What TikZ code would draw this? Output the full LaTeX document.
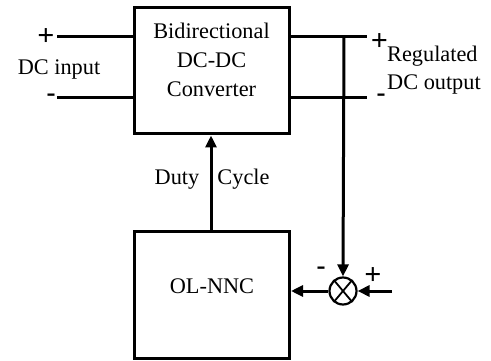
\documentclass[tikz,border=0pt]{standalone}
\usepackage{fontspec}
\setmainfont{Liberation Serif}
\usetikzlibrary{arrows.meta}
\begin{document}
\begin{tikzpicture}[x=1pt,y=-1pt,
  wire/.style={line width=3pt},
  arr/.style={wire,-{Triangle[length=12pt,width=11pt]}},
  blk/.style={draw,line width=3pt,minimum width=155pt,minimum height=126pt,inner sep=0pt},
  lbl/.style={font=\fontsize{22.3}{29}\selectfont,inner sep=0pt},
  sign/.style={font=\fontsize{27}{27}\selectfont\bfseries,inner sep=0pt},
  plus/.style={font=\fontsize{30}{30}\selectfont\bfseries,inner sep=0pt}]
\useasboundingbox (0,0) rectangle (491,361);
\node[blk] (conv) at (211.5,71) {};
\node[lbl,align=center] (convt) at (211.5,59.5) {Bidirectional\\DC-DC\\Converter};
\node[blk] (nnc) at (212,295) {};
\node[lbl,anchor=base] (nnct) at (212,294) {OL-NNC};
\node[draw,circle,line width=2.2pt,minimum size=27pt,inner sep=0pt] (sum) at (343,291) {};
\draw[line width=1.8pt] (sum.50) -- (sum.230) (sum.130) -- (sum.310);
% input
\coordinate (inp) at (57,37);
\coordinate (inm) at (57,98);
\draw[wire] (inp) -- (inp -| conv.west);
\draw[wire] (inm) -- (inm -| conv.west);
\node[plus] (ip) at (46,37) {+};
\node[sign] (im) at (51,98) {-};
\node[lbl,anchor=base] (dcin) at (59,75) {DC input};
% output
\coordinate (outp) at (367,37);
\coordinate (outm) at (367,98);
\draw[wire] (outp -| conv.east) -- (outp);
\draw[wire] (outm -| conv.east) -- (outm);
\coordinate (tap) at (344,37);
\draw[arr] (tap) -- (sum.north);
\node[plus] (op) at (379.5,42.5) {+};
\node[sign] (om) at (381,98) {-};
\node[lbl,anchor=base west] (reg) at (387,62) {Regulated};
\node[lbl,anchor=base west] (dcout) at (387,90) {DC output};
% duty cycle
\draw[arr] (nnc.north -| 211,0) -- (conv.south -| 211,0);
\node[lbl,anchor=base] (duty) at (177,185) {Duty};
\node[lbl,anchor=base] (cyc) at (243.5,185) {Cycle};
% feedback
\coordinate (ref) at (392,291);
\draw[arr] (ref) -- (sum.east);
\draw[arr] (sum.west) -- (sum.west -| nnc.east);
\node[sign] (sm) at (321,271) {-};
\node[plus] (sp) at (373,276) {+};
\end{tikzpicture}
\end{document}
